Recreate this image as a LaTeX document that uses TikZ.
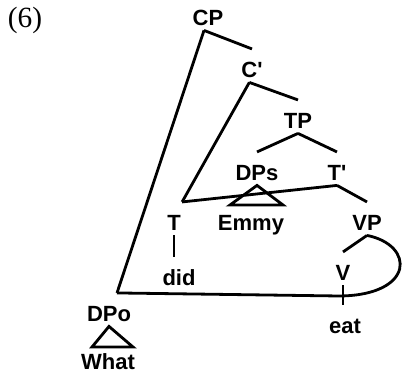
\documentclass[tikz,border=0pt]{standalone}
\usepackage{fontspec}
\setmainfont{Liberation Serif}
\newfontfamily\treefont{Liberation Sans}
\usepackage{tikz}

\begin{document}
\begin{tikzpicture}[x=0.75pt, y=-0.75pt,
                line width=2.1pt,
                nodes={font=\treefont\bfseries\fontsize{16.5}{19}\selectfont, anchor=base,
                       text height=17pt, text depth=0pt, inner ysep=3pt, inner xsep=1pt}]
            \useasboundingbox (0,0) rectangle (402,372);
            \node[font=\rmfamily\fontsize{22}{25}\selectfont, text height=, text depth=] (ex) at (25,27.5) {(6)};

            \node (cp)   at (208, 25) {CP};
            \node (cbar) at (252, 77) {C'};
            \node (tp)   at (298,128) {TP};
            \node (dps)  at (257,180) {DPs};
            \node (tbar) at (337,180) {T'};
            \node (t)    at (174,230) {T};
            \node (emmy) at (251,230) {Emmy};
            \node (vp)   at (367,230) {VP};
            \node (did)  at (179,285) {did};
            \node (v)    at (343,280) {V};
            \node (eat)  at (345,333) {eat};
            \node (dpo)  at (109,321) {DPo};
            \node (what) at (108,369) {What};

            \draw ([xshift=-3pt]cp.south) -- (cbar.north);
            \draw ([xshift=-2pt]cbar.south) -- (tp.north);
            \draw (tp.south) -- (dps.north);
            \draw (tp.south) -- (tbar.north);
            \draw (tbar.south) -- (vp.north);
            \draw (vp.south) -- (v.north);
            \draw (t.south) -- (t.south |- did.north);
            \draw (v.south) -- (v.south |- eat.north);

            \draw (dps.south) -- (230,205) -- (283,205) -- cycle;
            \draw (dpo.south) -- (92,347) -- (133,347) -- cycle;

            % moved items
            \draw ([xshift=-2pt]cbar.south) -- ([xshift=-1pt]t.north east);
            \draw (tbar.south) -- ([xshift=-1pt]t.north east);
            \draw ([xshift=-3pt]cp.south) -- ([xshift=6pt]dpo.north);
            \draw (vp.south) .. controls (415,245) and (415,295) .. (340,296)
                -- ([xshift=6pt]dpo.north);
        \end{tikzpicture}
\end{document}
